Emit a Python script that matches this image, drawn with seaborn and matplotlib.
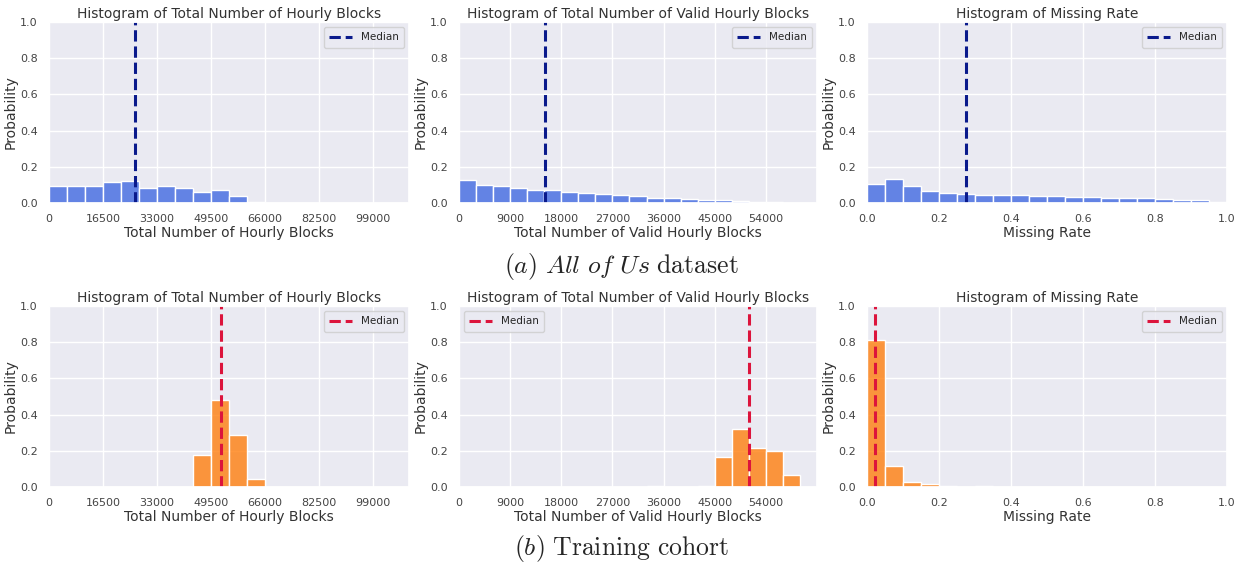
import numpy as np
import pandas as pd
import matplotlib
matplotlib.use("Agg")
import matplotlib.pyplot as plt
import seaborn as sns

sns.set_theme(style="darkgrid")
plt.rcParams["font.family"] = ["DejaVu Sans"]
plt.rcParams["mathtext.fontset"] = "cm"

# ---------------- data ----------------
titles = ["Histogram of Total Number of Hourly Blocks",
          "Histogram of Total Number of Valid Hourly Blocks",
          "Histogram of Missing Rate"]
xlabels = ["Total Number of Hourly Blocks",
           "Total Number of Valid Hourly Blocks",
           "Missing Rate"]

# bin settings (start, width, count) per column
bin_start = [0, 0, 0.0]
bin_width = [5500, 3000, 0.05]
bin_count = [20, 21, 20]
xlims = [(0, 110000), (0, 63000), (0.0, 1.0)]
xticks_list = [[0, 16500, 33000, 49500, 66000, 82500, 99000],
               [0, 9000, 18000, 27000, 36000, 45000, 54000],
               [0.0, 0.2, 0.4, 0.6, 0.8, 1.0]]

# (a) All of Us dataset: probabilities per bin
all_hourly = [0.096, 0.092, 0.092, 0.114, 0.122, 0.081, 0.096, 0.085, 0.063, 0.070,
              0.041, 0.007, 0.001, 0.0005, 0.0, 0.0, 0.0, 0.0, 0.0, 0.0]
all_valid = [0.125, 0.100, 0.092, 0.085, 0.074, 0.074, 0.059, 0.057, 0.048, 0.042,
             0.037, 0.030, 0.026, 0.022, 0.017, 0.015, 0.011, 0.007, 0.005, 0.002, 0.001]
all_missing = [0.103, 0.133, 0.092, 0.065, 0.055, 0.048, 0.046, 0.044, 0.042, 0.041,
               0.039, 0.031, 0.031, 0.028, 0.028, 0.026, 0.022, 0.018, 0.015, 0.007]
all_medians = [26200, 15050, 0.275]

# (b) Training cohort
train_hourly = [0, 0, 0, 0, 0, 0, 0, 0, 0.178, 0.480, 0.289, 0.046,
                0, 0, 0, 0, 0, 0, 0, 0]
train_valid = [0, 0, 0, 0, 0, 0, 0, 0, 0, 0, 0, 0.007, 0, 0, 0.007, 0.167, 0.320,
               0.217, 0.197, 0.068, 0]
train_missing = [0.810, 0.118, 0.028, 0.017, 0.007, 0.0, 0.007, 0, 0, 0,
                 0, 0, 0, 0, 0, 0, 0, 0, 0, 0]
train_medians = [52700, 51000, 0.023]

rows = [
    dict(values=[all_hourly, all_valid, all_missing], medians=all_medians,
         bar="royalblue", line="#0a1a8c", legend_locs=["upper right"] * 3,
         caption=r"$(a)\ \mathit{All\ of\ Us}\ \mathrm{dataset}$"),
    dict(values=[train_hourly, train_valid, train_missing], medians=train_medians,
         bar="#ff7f0e", line="crimson",
         legend_locs=["upper right", "upper left", "upper right"],
         caption=r"$(b)\ \mathrm{Training\ cohort}$"),
]

# ---------------- figure ----------------
fig = plt.figure(figsize=(12.42, 5.67), dpi=100)
W, H = 1242, 567
col_x = [(49, 409), (459, 817), (867, 1227)]
row_y = [(22, 203), (306, 487)]
caption_y = [266, 549]

for r, row in enumerate(rows):
    for c in range(3):
        x0, x1 = col_x[c]
        y0, y1 = row_y[r]
        ax = fig.add_axes([x0 / W, 1 - y1 / H, (x1 - x0) / W, (y1 - y0) / H])
        edges = [bin_start[c] + bin_width[c] * i for i in range(bin_count[c] + 1)]
        centers = [(edges[i] + edges[i + 1]) / 2 for i in range(bin_count[c])]
        df = pd.DataFrame({"x": centers, "w": row["values"][c]})
        sns.histplot(data=df, x="x", weights="w", bins=edges, stat="count",
                     color=row["bar"], alpha=0.8, edgecolor="white",
                     linewidth=1.0, ax=ax)
        ax.axvline(row["medians"][c], color=row["line"], linestyle="--",
                   linewidth=2.2, label="Median")
        ax.set_xlim(*xlims[c])
        ax.set_ylim(0, 1.0)
        ax.set_xticks(xticks_list[c])
        ax.set_yticks([0.0, 0.2, 0.4, 0.6, 0.8, 1.0])
        ax.set_yticklabels(["0.0", "0.2", "0.4", "0.6", "0.8", "1.0"])
        if c == 2:
            ax.set_xticklabels(["0.0", "0.2", "0.4", "0.6", "0.8", "1.0"])
        ax.tick_params(axis="both", labelsize=8, pad=2, labelcolor="#444444")
        ax.set_title(titles[c], fontsize=10, pad=3, color="#333333")
        ax.set_xlabel(xlabels[c], fontsize=10, labelpad=1, color="#333333")
        ax.set_ylabel("Probability", fontsize=10, labelpad=2, color="#333333")
        ax.legend(loc=row["legend_locs"][c], fontsize=7.5, handlelength=2.2,
                  borderpad=0.5)
    fig.text(0.5, 1 - caption_y[r] / H, row["caption"], ha="center",
             va="center", fontsize=18.5)

fig.savefig("out.png", dpi=100, facecolor="white")
